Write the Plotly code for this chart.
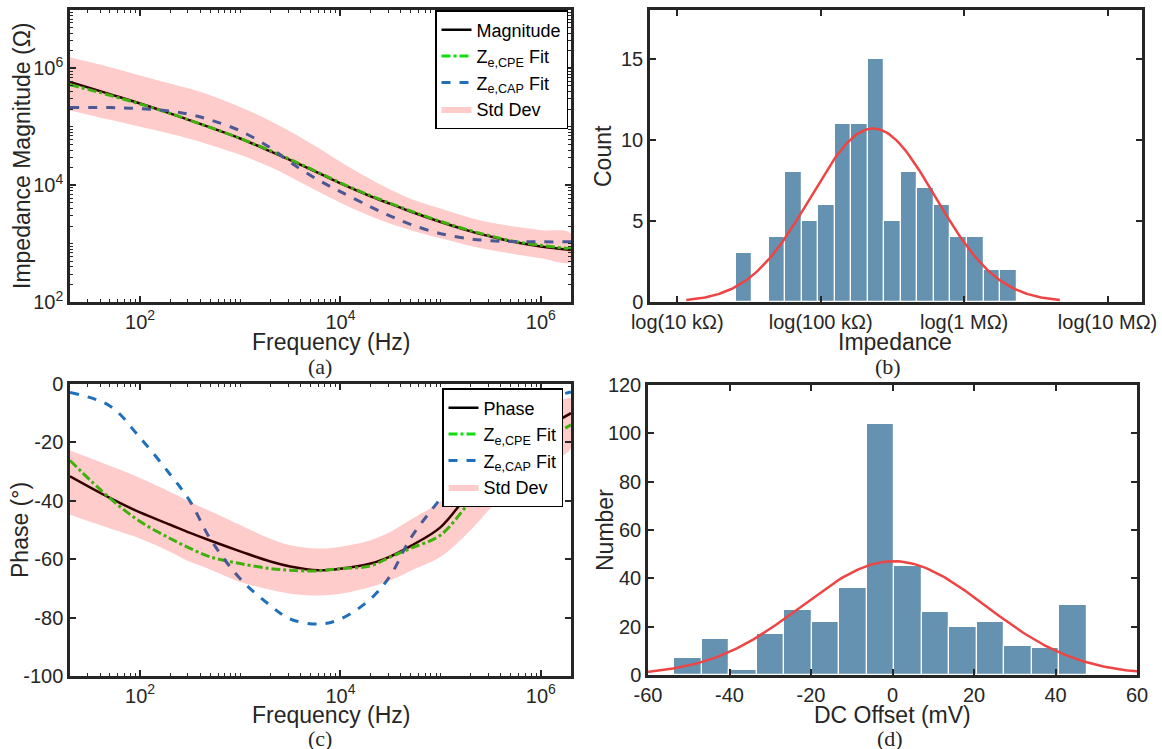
import math
import plotly.graph_objects as go

# ---------------- data ----------------
freq_hz = [20, 50, 100, 200, 316, 500, 1000, 2000, 3162, 6000, 1e4, 2e4,
           31623, 5e4, 1e5, 2e5, 316228, 5e5, 1e6, 2e6]

# impedance magnitude, log10(ohm)
mag_mean_log10 = [5.77, 5.56, 5.40, 5.23, 5.11, 4.99, 4.80, 4.58, 4.43, 4.21,
                  4.03, 3.81, 3.68, 3.55, 3.37, 3.21, 3.12, 3.04, 2.95, 2.89]
mag_upper_log10 = [6.19, 6.02, 5.88, 5.74, 5.65, 5.54, 5.34, 5.10, 4.92, 4.64,
                   4.40, 4.10, 3.92, 3.77, 3.60, 3.44, 3.36, 3.30, 3.23, 3.17]
mag_lower_log10 = [5.28, 5.12, 5.00, 4.88, 4.79, 4.69, 4.52, 4.31, 4.14, 3.89,
                   3.70, 3.47, 3.34, 3.23, 3.09, 2.96, 2.89, 2.83, 2.75, 2.69]
mag_cpe_log10 = [5.72, 5.54, 5.39, 5.23, 5.11, 4.99, 4.80, 4.59, 4.44, 4.22,
                 4.04, 3.82, 3.69, 3.56, 3.38, 3.22, 3.13, 3.05, 2.97, 2.91]
mag_cap_log10 = [5.33, 5.33, 5.31, 5.27, 5.21, 5.12, 4.93, 4.64, 4.39, 4.09,
                 3.89, 3.63, 3.47, 3.33, 3.17, 3.08, 3.05, 3.035, 3.03, 3.03]

# phase (deg)
ph_mean = [-31.6, -39.0, -44.0, -48.2, -51.0, -53.6, -57.3, -60.8, -62.5, -63.8, -63.3, -61.5,
           -59.0, -55.5, -49.0, -36.5, -29.0, -23.0, -16.0, -10.0]
ph_upper = [-22.8, -28.0, -32.2, -37.0, -40.4, -43.5, -48.3, -53.0, -55.2, -56.3, -55.7, -53.5,
            -50.6, -46.5, -40.2, -31.0, -25.0, -18.0, -10.0, -5.0]
ph_lower = [-44.8, -49.5, -52.9, -57.5, -60.9, -63.5, -67.8, -70.5, -71.8, -72.4, -71.8, -69.5,
            -67.2, -64.0, -59.2, -50.0, -42.5, -36.0, -28.0, -22.0]
ph_cpe = [-26.2, -39.1, -47.1, -52.9, -56.3, -59.2, -61.5, -63.2, -63.8, -64.0, -63.2, -62.3,
          -59.2, -56.3, -51.7, -40.0, -33.0, -27.0, -20.0, -14.0]
ph_cap = [-2.9, -7.5, -18.4, -31.0, -40.2, -52.9, -66.7, -75.9, -80.5, -82.2, -80.5, -73.6,
          -65.5, -52.9, -39.1, -25.0, -20.0, -13.0, -6.0, -2.7]

# histogram (b): impedance, log10 bins
imp_bin_start = 4.407
imp_bin_width = 0.1152
imp_counts = [3, 0, 4, 8, 5, 6, 11, 11, 15, 5, 8, 7, 6, 4, 4, 2, 2]
imp_fit_mean = 5.365
imp_fit_std = 0.434
imp_ticks = [4, 5, 6, 7]
imp_ticklabels = ["log(10 kΩ)", "log(100 kΩ)", "log(1 MΩ)", "log(10 MΩ)"]

# histogram (d): DC offset (mV)
dc_bin_start = -53.6
dc_bin_width = 6.75
dc_counts = [7, 15, 2, 17, 27, 22, 36, 104, 45, 26, 20, 22, 12, 11, 29]
dc_fit_mean = 0.3
dc_fit_std = 22.6

# tick values
phase_ticks = [-100, -80, -60, -40, -20, 0]
dc_ticks = [-60, -40, -20, 0, 20, 40, 60]
number_ticks = [0, 20, 40, 60, 80, 100, 120]
count_ticks = [0, 5, 10, 15]

# ---------------- style ----------------
FONT = "Liberation Sans, Arial, sans-serif"
SERIF = "Liberation Serif, Times New Roman, serif"
AX = "#262626"
BAR = "#6592B1"
RED = "#EE4444"
GREEN = "#11DD11"
BLUE = "#1F6FBA"
BAND = "rgba(255,0,0,0.2)"
TICK_SIZE = 20
LABEL_SIZE = 23

W, H = 1162, 749
def fx(x):
    return x / W
def fy(y):
    return 1 - y / H
def px_x(a, b):
    return [fx(a), fx(b)]
def px_y(top, bottom):
    return [fy(bottom), fy(top)]

mag_mean = [10 ** v for v in mag_mean_log10]
mag_upper = [10 ** v for v in mag_upper_log10]
mag_lower = [10 ** v for v in mag_lower_log10]
mag_cpe = [10 ** v for v in mag_cpe_log10]
mag_cap = [10 ** v for v in mag_cap_log10]

fig = go.Figure()

# ---- (a) magnitude
fig.add_trace(go.Scatter(x=freq_hz, y=mag_mean, mode="lines", name="Magnitude",
                         line=dict(color="black", width=2.5, shape="spline"),
                         xaxis="x", yaxis="y", legend="legend"))
fig.add_trace(go.Scatter(x=freq_hz, y=mag_cpe, mode="lines", name="Z<sub>e,CPE</sub> Fit",
                         line=dict(color=GREEN, width=3, dash="dashdot", shape="spline"),
                         xaxis="x", yaxis="y", legend="legend"))
fig.add_trace(go.Scatter(x=freq_hz, y=mag_cap, mode="lines", name="Z<sub>e,CAP</sub> Fit",
                         line=dict(color=BLUE, width=3, dash="dash", shape="spline"),
                         xaxis="x", yaxis="y", legend="legend"))
fig.add_trace(go.Scatter(x=freq_hz + freq_hz[::-1], y=mag_upper + mag_lower[::-1],
                         mode="lines", fill="toself", fillcolor=BAND, name="Std Dev",
                         line=dict(width=0, shape="spline"), xaxis="x", yaxis="y",
                         legend="legend"))

# ---- (c) phase
fig.add_trace(go.Scatter(x=freq_hz, y=ph_mean, mode="lines", name="Phase",
                         line=dict(color="black", width=2.5, shape="spline"),
                         xaxis="x3", yaxis="y3", legend="legend2"))
fig.add_trace(go.Scatter(x=freq_hz, y=ph_cpe, mode="lines", name="Z<sub>e,CPE</sub> Fit",
                         line=dict(color=GREEN, width=3, dash="dashdot", shape="spline"),
                         xaxis="x3", yaxis="y3", legend="legend2"))
fig.add_trace(go.Scatter(x=freq_hz, y=ph_cap, mode="lines", name="Z<sub>e,CAP</sub> Fit",
                         line=dict(color=BLUE, width=3, dash="dash", shape="spline"),
                         xaxis="x3", yaxis="y3", legend="legend2"))
fig.add_trace(go.Scatter(x=freq_hz + freq_hz[::-1], y=ph_upper + ph_lower[::-1],
                         mode="lines", fill="toself", fillcolor=BAND, name="Std Dev",
                         line=dict(width=0, shape="spline"), xaxis="x3", yaxis="y3",
                         legend="legend2"))

# ---- (b) impedance histogram
imp_centers = [imp_bin_start + imp_bin_width * (i + 0.5) for i in range(len(imp_counts))]
fig.add_trace(go.Bar(x=imp_centers, y=imp_counts, width=imp_bin_width,
                     marker=dict(color=BAR, line=dict(color="white", width=1.2)),
                     showlegend=False, xaxis="x2", yaxis="y2"))
n_imp = sum(imp_counts)
amp_imp = n_imp * imp_bin_width / (imp_fit_std * math.sqrt(2 * math.pi))
nfit = 200
xs_b = [imp_fit_mean - 3 * imp_fit_std + 6 * imp_fit_std * k / (nfit - 1) for k in range(nfit)]
ys_b = [amp_imp * math.exp(-0.5 * ((v - imp_fit_mean) / imp_fit_std) ** 2) for v in xs_b]
fig.add_trace(go.Scatter(x=xs_b, y=ys_b, mode="lines", line=dict(color=RED, width=2.5),
                         showlegend=False, xaxis="x2", yaxis="y2"))

# ---- (d) DC offset histogram
dc_centers = [dc_bin_start + dc_bin_width * (i + 0.5) for i in range(len(dc_counts))]
fig.add_trace(go.Bar(x=dc_centers, y=dc_counts, width=dc_bin_width,
                     marker=dict(color=BAR, line=dict(color="white", width=1.2)),
                     showlegend=False, xaxis="x4", yaxis="y4"))
n_dc = sum(dc_counts)
amp_dc = n_dc * dc_bin_width / (dc_fit_std * math.sqrt(2 * math.pi))
xs_d = [dc_fit_mean - 3 * dc_fit_std + 6 * dc_fit_std * k / (nfit - 1) for k in range(nfit)]
ys_d = [amp_dc * math.exp(-0.5 * ((v - dc_fit_mean) / dc_fit_std) ** 2) for v in xs_d]
fig.add_trace(go.Scatter(x=xs_d, y=ys_d, mode="lines", line=dict(color=RED, width=2.5),
                         showlegend=False, xaxis="x4", yaxis="y4"))

# ---------------- axes ----------------
def base_axis(**kw):
    d = dict(showline=True, linecolor=AX, linewidth=2.5, mirror="ticks", ticks="inside",
             ticklen=6, tickwidth=1.5, tickcolor=AX, showgrid=False, zeroline=False,
             automargin=False, tickfont=dict(family=FONT, size=TICK_SIZE, color=AX))
    d.update(kw)
    return d

def plain(vals):
    return [str(v) for v in vals]  # ASCII hyphen-minus like the original

log_minor = dict(ticks="inside", ticklen=3, tickwidth=1.2, tickcolor=AX, dtick="D1", showgrid=False)
freq_ticks = [100, 1e4, 1e6]
freq_labels = ["10<sup>2</sup>", "10<sup>4</sup>", "10<sup>6</sup>"]

fig.update_layout(
    xaxis=base_axis(type="log", domain=px_x(70, 571), range=[math.log10(20), math.log10(2e6)],
                    anchor="y", tickvals=freq_ticks, ticktext=freq_labels, minor=log_minor),
    yaxis=base_axis(type="log", domain=px_y(10, 302), range=[2, 7], anchor="x",
                    tickvals=[100, 1e4, 1e6], ticktext=freq_labels, minor=log_minor),
    xaxis2=base_axis(domain=px_x(650, 1142), range=[3.81, 7.24], anchor="y2",
                     tickvals=imp_ticks, ticktext=imp_ticklabels),
    yaxis2=base_axis(domain=px_y(10, 302), range=[0, 18], anchor="x2",
                     tickvals=count_ticks, ticktext=plain(count_ticks)),
    xaxis3=base_axis(type="log", domain=px_x(70, 571), range=[math.log10(20), math.log10(2e6)],
                     anchor="y3", tickvals=freq_ticks, ticktext=freq_labels, minor=log_minor),
    yaxis3=base_axis(domain=px_y(384, 676), range=[-100, 0], anchor="x3",
                     tickvals=phase_ticks, ticktext=plain(phase_ticks)),
    xaxis4=base_axis(domain=px_x(648, 1137), range=[-60, 60], anchor="y4",
                     tickvals=dc_ticks, ticktext=plain(dc_ticks)),
    yaxis4=base_axis(domain=px_y(385, 675), range=[0, 120], anchor="x4",
                     tickvals=number_ticks, ticktext=plain(number_ticks)),
)

legend_style = dict(bgcolor="white", bordercolor="black", borderwidth=1.5,
                    font=dict(family=FONT, size=18, color="black"),
                    xanchor="right", yanchor="top", tracegroupgap=0, itemwidth=30)
fig.update_layout(
    legend=dict(x=fx(568), y=fy(10), **legend_style),
    legend2=dict(x=fx(563), y=fy(388), **legend_style),
)

ann = []
def label(text, x, y, size=LABEL_SIZE, angle=0, family=FONT):
    ann.append(dict(text=text, x=fx(x), y=fy(y), xref="paper", yref="paper",
                    showarrow=False, textangle=angle, xanchor="center", yanchor="middle",
                    font=dict(family=family, size=size, color=AX)))

label("Impedance Magnitude (Ω)", 22, 156, angle=-90)
label("Frequency (Hz)", 331, 342)
label("(a)", 320, 366, size=22, family=SERIF)
label("Count", 603, 156, angle=-90)
label("Impedance", 895, 342)
label("(b)", 888, 366, size=22, family=SERIF)
label("Phase (°)", 20, 530, angle=-90)
label("Frequency (Hz)", 331, 715)
label("(c)", 320, 738, size=22, family=SERIF)
label("Number", 605, 530, angle=-90)
label("DC Offset (mV)", 892, 715)
label("(d)", 890, 738, size=22, family=SERIF)

fig.update_layout(
    width=W, height=H, margin=dict(l=0, r=0, t=0, b=0, autoexpand=False),
    paper_bgcolor="white", plot_bgcolor="white", annotations=ann,
    font=dict(family=FONT, color=AX), bargap=0,
)

# remove the default 8px page margin so the figure fills the window exactly
fig.write_html("out.html", config={"displayModeBar": False},
               post_script="document.body.style.margin='0';document.body.style.overflow='hidden';")
